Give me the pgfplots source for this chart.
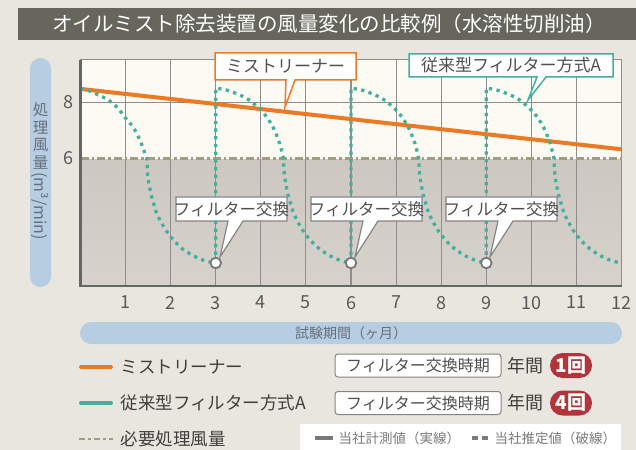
\documentclass[border=0pt]{standalone}
\usepackage{fontspec}
\setmainfont{Noto Sans CJK JP}
\usepackage{pgfplots}
\pgfplotsset{compat=1.18}
\definecolor{bgc}{HTML}{E9E6DF}
\definecolor{titlebar}{HTML}{66665D}
\definecolor{pillc}{HTML}{B7CDE2}
\definecolor{pilltext}{HTML}{66707C}
\definecolor{cream}{HTML}{FDFAF4}
\definecolor{lowtop}{HTML}{CCC8C1}
\definecolor{lowbot}{HTML}{D7D3CC}
\definecolor{gridc}{HTML}{8E8E8E}
\definecolor{axisdark}{HTML}{666666}
\definecolor{tickc}{HTML}{595959}
\definecolor{mlorange}{HTML}{EC7A24}
\definecolor{mlteal}{HTML}{42AF9F}
\definecolor{khaki}{HTML}{A49B80}
\definecolor{circlec}{HTML}{777777}
\definecolor{boxgray}{HTML}{858585}
\definecolor{calltext}{HTML}{505050}
\definecolor{legtext}{HTML}{3F3F3F}
\definecolor{badge}{HTML}{B3343A}
\definecolor{notec}{HTML}{7A7A7A}
\pgfdeclareverticalshading{plotbg}{100bp}{color(0bp)=(lowbot); color(25bp)=(lowbot); color(53.26bp)=(lowtop); color(53.26bp)=(cream); color(75bp)=(cream); color(100bp)=(cream)}
\newcommand\fs[1]{\fontsize{#1bp}{#1bp}\selectfont}
\begin{document}
\begin{tikzpicture}
\begin{scope}[x=1bp,y=-1bp]
\fill[bgc] (0,0) rectangle (636,450);
\fill[titlebar] (18,8) rectangle (636,40);
\node[text=white, font=\fs{20.5}] at (329,24) {オイルミスト除去装置の風量変化の比較例（水溶性切削油）};
% y pill
\fill[pillc, rounded corners=10.5bp] (30,58) rectangle (51,287);
\node[text=pilltext, font=\fs{15.5}, inner sep=0pt] at (40.5,110) {処};
\node[text=pilltext, font=\fs{15.5}, inner sep=0pt] at (40.5,127.5) {理};
\node[text=pilltext, font=\fs{15.5}, inner sep=0pt] at (40.5,145) {風};
\node[text=pilltext, font=\fs{15.5}, inner sep=0pt] at (40.5,162.5) {量};
\node[text=pilltext, font=\fs{16}, inner sep=0pt, rotate=-90] at (40.5,206) {(m³/min)};
% x pill
\fill[pillc, rounded corners=11bp] (80,322) rectangle (622,344);
\node[text=pilltext, font=\fs{14}] at (351,333) {試験期間（ヶ月）};
\end{scope}

\begin{axis}[
  at={(80.5bp,-286bp)}, anchor=south west,
  width=541bp, height=226bp, scale only axis,
  xmin=0, xmax=12, ymin=1.45, ymax=9.5,
  xtick={1,2,...,12}, ytick={8}, extra y ticks={6}, extra y tick style={grid=none},
  major tick length=0pt,
  xmajorgrids, ymajorgrids,
  grid style={gridc, line width=1.1bp},
  axis line style={gridc, line width=1bp},
  axis background/.style={shading=plotbg},
  clip=false,
  ticklabel style={font=\fs{18}, text=tickc},
  xticklabel style={yshift=-6.5bp},
  yticklabel style={xshift=-3bp},
  /pgf/number format/assume math mode=true,
]
\addplot[khaki, line width=2.6bp, dash pattern=on 8bp off 3bp on 2.5bp off 3bp] coordinates {(0,6) (12,6)};
\addplot[mlorange, line width=4bp] coordinates {(0,8.47) (12,6.32)};
\addplot[mlteal, line width=3.3bp, dash pattern=on 3.3bp off 4.4bp, line join=round] coordinates {
(0,8.47) (0.2,8.40) (0.43,8.23) (0.6,8.10) (0.73,7.94) (0.85,7.76) (0.95,7.52) (1.06,7.32) (1.17,7.11) (1.25,6.88) (1.32,6.64) (1.38,6.40) (1.43,6.17) (1.47,6.00)
(1.49,5.40) (1.52,5.06) (1.57,4.68) (1.67,4.12) (1.77,3.76) (1.92,3.38) (2.07,3.06) (2.27,2.76) (2.47,2.55) (2.67,2.40) (2.82,2.32) (3.0,2.27)
(3,8.50) (3.2,8.45) (3.39,8.35) (3.58,8.22) (3.76,8.06) (3.92,7.84) (4.05,7.64) (4.17,7.38) (4.27,7.11) (4.35,6.82) (4.42,6.52) (4.47,6.22) (4.50,6.00) (4.52,5.45) (4.55,5.10) (4.60,4.72) (4.70,4.16) (4.80,3.78) (4.95,3.38) (5.10,3.07) (5.30,2.77) (5.50,2.55) (5.70,2.40) (5.85,2.32) (6.00,2.27)
(6,8.50) (6.2,8.45) (6.39,8.35) (6.58,8.22) (6.76,8.06) (6.92,7.84) (7.05,7.64) (7.17,7.38) (7.27,7.11) (7.35,6.82) (7.42,6.52) (7.47,6.22) (7.50,6.00) (7.52,5.45) (7.55,5.10) (7.60,4.72) (7.70,4.16) (7.80,3.78) (7.95,3.38) (8.10,3.07) (8.30,2.77) (8.50,2.55) (8.70,2.40) (8.85,2.32) (9.00,2.27)
(9,8.50) (9.2,8.45) (9.39,8.35) (9.58,8.22) (9.76,8.06) (9.92,7.84) (10.05,7.64) (10.17,7.38) (10.27,7.11) (10.35,6.82) (10.42,6.52) (10.47,6.22) (10.50,6.00) (10.52,5.45) (10.55,5.10) (10.60,4.72) (10.70,4.16) (10.80,3.78) (10.95,3.38) (11.10,3.07) (11.30,2.77) (11.50,2.55) (11.70,2.40) (11.85,2.32) (12.00,2.27)
};
\addplot[only marks, mark=*, mark size=5.3bp, mark options={fill=white, draw=circlec, line width=1.8bp}] coordinates {(3,2.27) (6,2.27) (9,2.27)};
\draw[axisdark, line width=2.6bp] (rel axis cs:0,1) -- (rel axis cs:0,0) -- (rel axis cs:1,0);
\end{axis}

\begin{scope}[x=1bp,y=-1bp]
% callouts
\draw[mlorange, line width=1.5bp, fill=white] (215,53) -- (356,53) -- (356,80) -- (295,80) -- (285,107) -- (286,80) -- (215,80) -- cycle;
\node[text=calltext, font=\fs{17}] at (285.5,66.5) {ミストリーナー};
\draw[mlteal, line width=1.5bp, fill=white] (409,54) -- (613,54) -- (613,77) -- (546,77) -- (528,100) -- (537,77) -- (409,77) -- cycle;
\node[text=calltext, font=\fs{17}] at (511,65.5) {従来型フィルター方式A};
\foreach \dx in {0,135,270} {
  \draw[boxgray, line width=1.2bp, fill=white] ({176+\dx},197) -- ({287+\dx},197) -- ({287+\dx},221) -- ({243+\dx},221) -- ({220+\dx},257) -- ({228+\dx},221) -- ({176+\dx},221) -- cycle;
  \node[text=calltext, font=\fs{16.5}] at ({231.5+\dx},209) {フィルター交換};
}
% legend
\draw[mlorange, line width=4bp, line cap=round] (81,367) -- (111,367);
\node[anchor=west, text=legtext, font=\fs{17.5}] at (117,367) {ミストリーナー};
\draw[mlteal, line width=4bp, line cap=round] (81,403) -- (111,403);
\node[anchor=west, text=legtext, font=\fs{17.5}] at (117,403) {従来型フィルター方式A};
\draw[khaki, line width=2.6bp, dash pattern=on 6bp off 3bp on 3bp off 3bp] (79,439) -- (113,439);
\node[anchor=west, text=legtext, font=\fs{17.5}] at (117,439) {必要処理風量};
\foreach \yy/\n in {365.5/1, 403/4} {
  \draw[boxgray, line width=1bp, fill=white, rounded corners=3bp] (335,\yy-11.5) rectangle (501,\yy+11.5);
  \node[text=calltext, font=\fs{16}] at (418,\yy) {フィルター交換時期};
  \node[anchor=west, text=legtext, font=\fs{18}] at (504,\yy) {年間};
  \node[fill=badge, text=white, rounded corners=12.5bp, minimum width=42bp, minimum height=25bp, inner sep=0pt, font=\fs{19}\bfseries] at (571,\yy) {\n 回};
}
% note box
\fill[white] (300,424) rectangle (621,450);
\draw[notec, line width=4bp] (315,438) -- (333,438);
\node[anchor=west, text=notec, font=\fs{13.5}] at (335,438) {当社計測値（実線）};
\draw[notec, line width=4bp, dash pattern=on 6bp off 4bp] (472,438) -- (492,438);
\node[anchor=west, text=notec, font=\fs{13.5}] at (491,438) {当社推定値（破線）};
\pgfresetboundingbox
\path[use as bounding box] (0,0) rectangle (636,450);
\end{scope}
\end{tikzpicture}
\end{document}
